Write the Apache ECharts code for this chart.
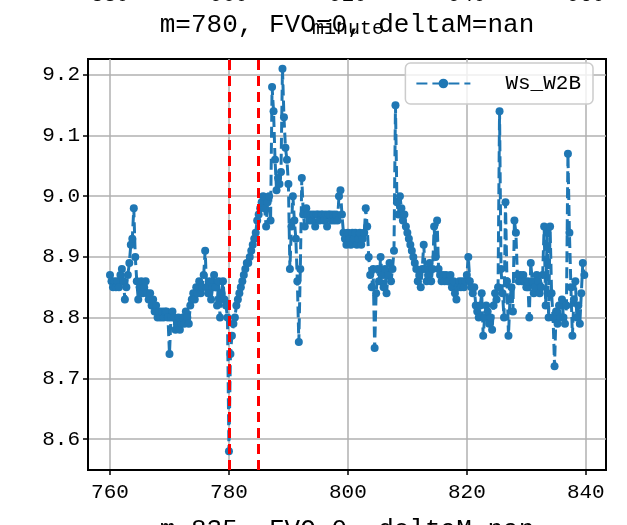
<!DOCTYPE html>
<html>
<head>
<meta charset="utf-8">
<script src="https://cdn.jsdelivr.net/npm/echarts@6/dist/echarts.min.js"></script>
<style>
  html, body { margin: 0; padding: 0; background: #fff; }
  #main { width: 627px; height: 525px; }
</style>
</head>
<body>
<div id="main"></div>
<script>
// minutes start at 760, one reading every 0.25 minute
var minuteStart = 760;
var minuteStep = 0.25;

// Ws_W2B readings, 20 minutes per block
var ws760 = [
  8.87, 8.86, 8.85, 8.86,  8.85, 8.86, 8.85, 8.87,  8.88, 8.86, 8.83, 8.85,  8.87, 8.89, 8.92, 8.93,  8.98, 8.90, 8.86, 8.83,
  8.85, 8.86, 8.84, 8.85,  8.86, 8.84, 8.83, 8.84,  8.82, 8.83, 8.81, 8.82,  8.80, 8.81, 8.80, 8.81,  8.80, 8.81, 8.81, 8.80,
  8.74, 8.80, 8.81, 8.80,  8.78, 8.79, 8.80, 8.78,  8.79, 8.80, 8.79, 8.81,  8.80, 8.79, 8.82, 8.83,  8.84, 8.83, 8.85, 8.84,
  8.86, 8.84, 8.85, 8.87,  8.91, 8.85, 8.84, 8.86,  8.83, 8.85, 8.87, 8.85,  8.82, 8.86, 8.80, 8.84,  8.86, 8.83, 8.82, 8.80
];
var ws780 = [
  8.58, 8.74, 8.77, 8.79,  8.80, 8.82, 8.83, 8.84,  8.85, 8.86, 8.87, 8.88,  8.89, 8.89, 8.90, 8.91,  8.92, 8.93, 8.94, 8.96,
  8.97, 8.98, 8.99, 9.00,  8.98, 8.95, 8.99, 9.00,  8.96, 9.18, 9.14, 9.06,  9.01, 9.03, 9.02, 9.04,  9.21, 9.13, 9.08, 9.06,
  9.02, 8.88, 8.95, 9.00,  8.96, 8.93, 8.86, 8.76,  8.88, 9.03, 8.97, 8.95,  8.98, 8.97, 8.96, 8.97,  8.96, 8.97, 8.95, 8.97,
  8.97, 8.96, 8.97, 8.97,  8.96, 8.97, 8.95, 8.97,  8.97, 8.96, 8.97, 8.96,  8.97, 8.96, 9.00, 9.01,  8.97, 8.94, 8.93, 8.92
];
var ws800 = [
  8.94, 8.93, 8.92, 8.94,  8.93, 8.94, 8.92, 8.93,  8.94, 8.92, 8.93, 8.94,  8.98, 8.95, 8.90, 8.87,  8.85, 8.88, 8.75, 8.84,
  8.88, 8.86, 8.90, 8.87,  8.85, 8.88, 8.84, 8.87,  8.89, 8.86, 8.88, 8.91,  9.15, 8.99, 8.97, 9.00,  8.98, 8.96, 8.97, 8.95,
  8.94, 8.93, 8.92, 8.91,  8.90, 8.89, 8.88, 8.86,  8.87, 8.85, 8.88, 8.92,  8.88, 8.86, 8.87, 8.89,  8.86, 8.88, 8.95, 8.90,
  8.96, 8.88, 8.87, 8.86,  8.87, 8.86, 8.87, 8.86,  8.86, 8.87, 8.85, 8.86,  8.84, 8.83, 8.85, 8.86,  8.85, 8.86, 8.85, 8.86
];
var ws820 = [
  8.87, 8.90, 8.86, 8.85,  8.84, 8.85, 8.82, 8.81,  8.80, 8.82, 8.84, 8.77,  8.80, 8.82, 8.81, 8.79,  8.80, 8.78, 8.82, 8.84,
  8.83, 8.85, 9.14, 8.88,  8.84, 8.80, 8.99, 8.86,  8.77, 8.83, 8.85, 8.81,  8.96, 8.94, 8.87, 8.86,  8.87, 8.86, 8.87, 8.86,
  8.85, 8.86, 8.80, 8.89,  8.86, 8.84, 8.85, 8.87,  8.86, 8.84, 8.85, 8.87,  8.95, 8.82, 8.94, 8.80,  8.95, 8.84, 8.80, 8.72,
  8.81, 8.79, 8.82, 8.80,  8.83, 8.80, 8.79, 8.82,  9.07, 8.94, 8.85, 8.77,  8.83, 8.86, 8.80, 8.82,  8.79, 8.84, 8.89, 8.87
];

var markMinutes = [780, 785];
var xTicks = [760, 780, 800, 820, 840];
var yTicks = [8.6, 8.7, 8.8, 8.9, 9.0, 9.1, 9.2];
var upperTicks = ['880', '900', '920', '940', '960'];

var font = '"Liberation Mono", "DejaVu Sans Mono", monospace';

var values = ws760.concat(ws780, ws800, ws820);
var points = [];
for (var i = 0; i < values.length; i++) {
  points.push([minuteStart + i * minuteStep, values[i]]);
}

var myChart = echarts.init(document.getElementById('main'), null, {renderer: 'canvas'});

var graphics = [
  {type: 'text', x: 347, y: 25, style: {text: 'm=780, FVO=0, deltaM=nan', font: '26px ' + font, fill: '#000', textAlign: 'center', textVerticalAlign: 'middle'}, z: 10},
  {type: 'text', x: 348, y: 29, style: {text: 'minute', font: '20px ' + font, fill: '#000', textAlign: 'center', textVerticalAlign: 'middle'}, z: 11},
  {type: 'text', x: 347, y: 530, style: {text: 'm=835, FVO=0, deltaM=nan', font: '26px ' + font, fill: '#000', textAlign: 'center', textVerticalAlign: 'middle'}, z: 10}
];
var upperX = [110, 229, 348, 467, 586];
for (var k = 0; k < upperTicks.length; k++) {
  graphics.push({type: 'text', x: upperX[k], y: -5, style: {text: upperTicks[k], font: '21px ' + font, fill: '#000', textAlign: 'center', textVerticalAlign: 'middle'}});
}

var option = {
  animation: false,
  backgroundColor: '#fff',
  grid: {left: 88, right: 21, top: 59, bottom: 55, show: true, borderColor: '#000', borderWidth: 2},
  legend: {
    data: ['Ws_W2B'],
    right: 34, top: 63,
    itemWidth: 54, itemHeight: 12,
    padding: [10, 12, 10, 10],
    borderColor: '#cccccc', borderWidth: 1.5, borderRadius: 5,
    backgroundColor: 'rgba(255,255,255,0.8)',
    textStyle: {fontFamily: font, fontSize: 21, color: '#000', padding: [0, 0, 0, 30]}
  },
  xAxis: {
    type: 'value', min: 756.3, max: 843.4,
    axisLine: {onZero: false, lineStyle: {color: '#000', width: 2}},
    axisTick: {show: true, length: 5, lineStyle: {color: '#000', width: 1.5}, customValues: xTicks},
    axisLabel: {customValues: xTicks, fontFamily: font, fontSize: 21, color: '#000', margin: 12},
    splitLine: {show: true, lineStyle: {color: '#b0b0b0', width: 1.5}}
  },
  yAxis: {
    type: 'value', min: 8.549, max: 9.226,
    axisLine: {show: true, lineStyle: {color: '#000', width: 2}},
    axisTick: {show: true, length: 5, lineStyle: {color: '#000', width: 1.5}, customValues: yTicks},
    axisLabel: {customValues: yTicks, fontFamily: font, fontSize: 21, color: '#000', margin: 8,
      formatter: function (v) { return v.toFixed(1); }},
    splitLine: {show: true, lineStyle: {color: '#b0b0b0', width: 1.5}}
  },
  graphic: graphics,
  series: [
    {
      name: 'Ws_W2B',
      type: 'line',
      data: points,
      symbol: 'circle',
      symbolSize: 8,
      showSymbol: true,
      showAllSymbol: true,
      color: '#1f77b4',
      lineStyle: {width: 3, type: [11, 5], color: '#1f77b4'},
      itemStyle: {color: '#1f77b4'},
      markLine: {
        silent: true,
        symbol: 'none',
        label: {show: false},
        lineStyle: {color: '#ff0000', type: [10, 6], width: 3},
        data: markMinutes.map(function (m) { return {xAxis: m}; })
      }
    }
  ]
};
myChart.setOption(option);
</script>
</body>
</html>
